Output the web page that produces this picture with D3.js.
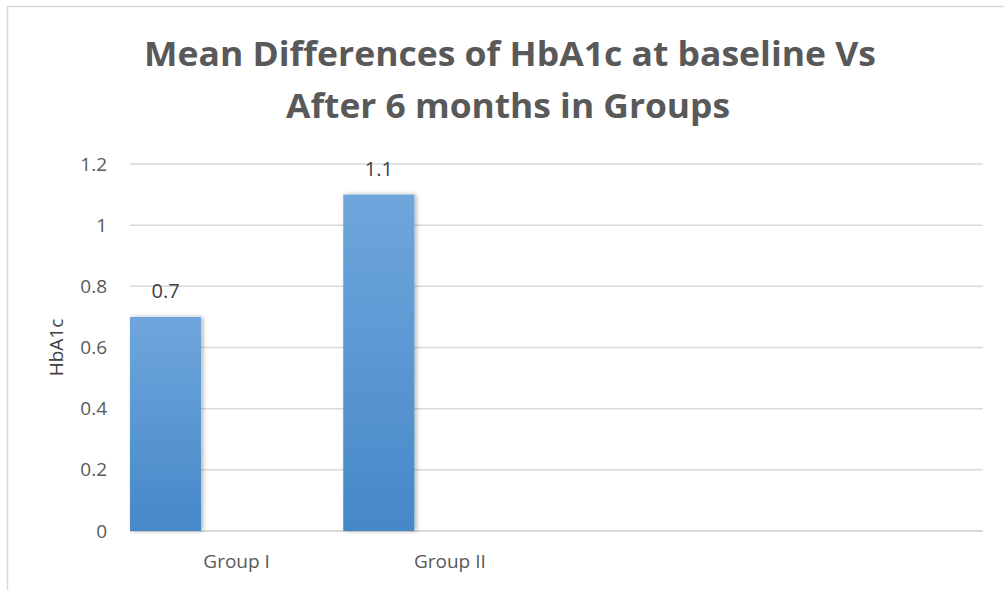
<!DOCTYPE html>
<html>
<head>
<meta charset="utf-8">
<script src="https://cdn.jsdelivr.net/npm/d3@7"></script>
<style>
  body { margin: 0; background: #fff; }
  text { font-family: "Open Sans", sans-serif; }
</style>
</head>
<body>
<script>
// chart data
const categories = ["Group I", "Group II", "", ""];
const values = [0.7, 1.1];
const seriesSlots = ["HbA1c", "s2", "s3"];
const yTicks = [0, 0.2, 0.4, 0.6, 0.8, 1, 1.2];
const titleLines = ["Mean Differences of HbA1c at baseline Vs", "After 6 months in Groups"];
const yTitle = "HbA1c";

const svgWidth = 1004, svgHeight = 590,
    margin = { top: 164, right: 21, bottom: 59, left: 130 },
    width = svgWidth - margin.left - margin.right,
    height = svgHeight - margin.top - margin.bottom;

const svg = d3.select("body").append("svg")
    .attr("width", svgWidth)
    .attr("height", svgHeight);

// gradient + shadow for the columns
const defs = svg.append("defs");
const grad = defs.append("linearGradient")
    .attr("id", "barGrad")
    .attr("x1", 0).attr("y1", 0).attr("x2", 0).attr("y2", 1);
grad.append("stop").attr("offset", "0%").attr("stop-color", "#6fa6dc");
grad.append("stop").attr("offset", "100%").attr("stop-color", "#4588c8");

const shadow = defs.append("filter").attr("id", "shadow")
    .attr("x", "-20%").attr("y", "-10%").attr("width", "140%").attr("height", "120%");
shadow.append("feDropShadow")
    .attr("dx", 2).attr("dy", 0).attr("stdDeviation", 2)
    .attr("flood-color", "#000").attr("flood-opacity", 0.3);

// outer frame (only top and left edges visible)
svg.append("rect")
    .attr("x", 7.5).attr("y", 6.5)
    .attr("width", 1200).attr("height", 800)
    .attr("fill", "none")
    .attr("stroke", "#d9d9d9")
    .attr("stroke-width", 1.5);

// title
svg.append("g").selectAll("text")
    .data(titleLines)
    .enter().append("text")
    .attr("x", (d, i) => i === 0 ? 510 : 508)
    .attr("y", (d, i) => 66 + i * 52)
    .attr("text-anchor", "middle")
    .attr("font-size", 34)
    .attr("font-weight", "bold")
    .attr("fill", "#595959")
    .attr("textLength", (d, i) => i === 0 ? 732 : 444)
    .attr("lengthAdjust", "spacingAndGlyphs")
    .text(d => d);

const g = svg.append("g")
    .attr("transform", "translate(" + margin.left + "," + margin.top + ")");

const x = d3.scaleBand()
    .domain(d3.range(categories.length))
    .range([0, width])
    .padding(0);

const x1 = d3.scaleBand()
    .domain(seriesSlots)
    .range([0, x.bandwidth()])
    .padding(0);

const y = d3.scaleLinear()
    .domain([0, 1.2])
    .range([height, 0]);

// gridlines
g.append("g").selectAll("line")
    .data(yTicks)
    .enter().append("line")
    .attr("x1", 0).attr("x2", width)
    .attr("y1", d => y(d)).attr("y2", d => y(d))
    .attr("stroke", "#d9d9d9")
    .attr("stroke-width", d => d === 0 ? 2 : 1.5);

// y tick labels
g.append("g").selectAll("text")
    .data(yTicks)
    .enter().append("text")
    .attr("x", -23)
    .attr("y", d => y(d))
    .attr("dy", "0.35em")
    .attr("text-anchor", "end")
    .attr("font-size", 19)
    .attr("fill", "#595959")
    .text(d => d3.format("")(d));

// columns
g.append("g").selectAll("rect")
    .data(values)
    .enter().append("rect")
    .attr("x", (d, i) => x(i) + x1(seriesSlots[0]))
    .attr("y", d => y(d))
    .attr("width", x1.bandwidth())
    .attr("height", d => height - y(d))
    .attr("fill", "url(#barGrad)")
    .attr("filter", "url(#shadow)");

// data labels
g.append("g").selectAll("text")
    .data(values)
    .enter().append("text")
    .attr("x", (d, i) => x(i) + x1(seriesSlots[0]) + x1.bandwidth() / 2)
    .attr("y", d => y(d) - 19)
    .attr("text-anchor", "middle")
    .attr("font-size", 20)
    .attr("fill", "#404040")
    .text(d => d);

// category labels
g.append("g").selectAll("text")
    .data(categories)
    .enter().append("text")
    .attr("x", (d, i) => x(i) + x.bandwidth() / 2)
    .attr("y", height + 37)
    .attr("text-anchor", "middle")
    .attr("font-size", 19)
    .attr("fill", "#595959")
    .text(d => d);

// y axis title
svg.append("text")
    .attr("transform", "translate(63," + (margin.top + height / 2) + ") rotate(-90)")
    .attr("text-anchor", "middle")
    .attr("font-size", 19)
    .attr("fill", "#404040")
    .text(yTitle);
</script>
</body>
</html>
